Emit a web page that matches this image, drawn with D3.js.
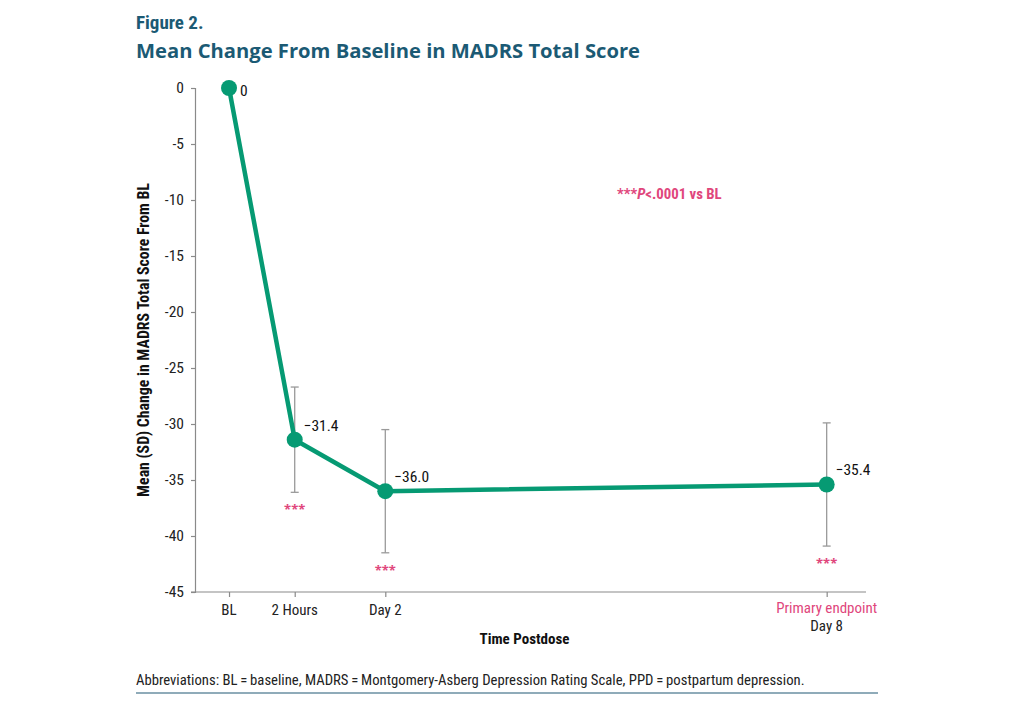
<!DOCTYPE html>
<html>
<head>
<meta charset="utf-8">
<script src="https://cdn.jsdelivr.net/npm/d3@7"></script>
<style>
  html, body { margin: 0; padding: 0; background: #fff; }
  svg { display: block; }
</style>
</head>
<body>
<svg id="chart" width="1010" height="706"></svg>
<script>
// ---- data ----
const timepoints = ["BL", "2 Hours", "Day 2", "Day 8"];
const timeHours = [0, 2, 48, 192];
const meanChange = [0, -31.4, -36.0, -35.4];
const sdValues = [0, 4.7, 5.5, 5.5];
const valueLabels = ["0", "\u221231.4", "\u221236.0", "\u221235.4"];
const significant = [false, true, true, true];
const yTicks = [0, -5, -10, -15, -20, -25, -30, -35, -40, -45];

// ---- layout ----
const svg = d3.select("#chart");
const margin = { left: 195, top: 88, right: 144, bottom: 114 };
const W = 1010, H = 706;
const plotW = W - margin.left - margin.right;   // 671
const plotH = H - margin.top - margin.bottom;   // 504

const green = "#069a73";
const teal = "#1b5a74";
const pink = "#e0467c";
const axisGray = "#8a8a8a";
const narrow = "'Liberation Sans Narrow', 'Roboto Condensed', sans-serif";
const sans = "'Open Sans', 'Lato', sans-serif";

// piecewise x scale over hours postdose (axis is not to scale)
const x = d3.scaleLinear()
  .domain(timeHours)
  .range([0.0507, 0.1486, 0.2836, 0.9414].map(f => margin.left + f * plotW));
const y = d3.scaleLinear().domain([0, -45]).range([margin.top, margin.top + plotH]);

// ---- titles ----
svg.append("text").attr("x", 136).attr("y", 29)
  .style("font-family", narrow).style("font-weight", "bold").style("font-size", "19px")
  .attr("fill", teal).text("Figure 2.");
svg.append("text").attr("x", 136).attr("y", 58)
  .style("font-family", sans).style("font-weight", "bold").style("font-size", "20.2px")
  .attr("fill", teal).text("Mean Change From Baseline in MADRS Total Score");

// ---- axes ----
const yAxis = d3.axisLeft(y).tickValues(yTicks).tickSize(4).tickPadding(7).tickFormat(d3.format("d"));
const gy = svg.append("g").attr("transform", `translate(${margin.left},0)`).call(yAxis);
gy.select(".domain").attr("stroke", axisGray).attr("stroke-width", 1.2);
gy.selectAll(".tick line").attr("stroke", axisGray).attr("stroke-width", 1.2);
gy.selectAll(".tick text").style("font-family", narrow).style("font-size", "15.5px").attr("fill", "#222")
  .text(d => d === 0 ? "0" : "-" + Math.abs(d));

const xAxis = d3.axisBottom(x).tickValues(timeHours).tickSize(5).tickFormat(() => "");
const gx = svg.append("g").attr("transform", `translate(0,${margin.top + plotH})`).call(xAxis);
gx.select(".domain").attr("d", `M${margin.left - 4},0H${margin.left + plotW}`)
  .attr("stroke", axisGray).attr("stroke-width", 1.2);
gx.selectAll(".tick line").attr("stroke", axisGray).attr("stroke-width", 1.2);

// x tick labels
timepoints.forEach((t, i) => {
  if (i === timepoints.length - 1) {
    svg.append("text").attr("x", x(timeHours[i])).attr("y", 613)
      .attr("text-anchor", "middle").style("font-family", narrow).style("font-size", "15px")
      .attr("fill", pink).text("Primary endpoint");
    svg.append("text").attr("x", x(timeHours[i])).attr("y", 631)
      .attr("text-anchor", "middle").style("font-family", narrow).style("font-size", "15px")
      .attr("fill", "#222").text(t);
  } else {
    svg.append("text").attr("x", x(timeHours[i])).attr("y", 615)
      .attr("text-anchor", "middle").style("font-family", narrow).style("font-size", "15px")
      .attr("fill", "#222").text(t);
  }
});

// axis titles
svg.append("text").attr("x", margin.left + plotW / 2 - 6).attr("y", 644)
  .attr("text-anchor", "middle").style("font-family", narrow).style("font-weight", "bold")
  .style("font-size", "15px").attr("fill", "#111").text("Time Postdose");
svg.append("text")
  .attr("transform", `translate(149,${margin.top + plotH / 2})rotate(-90)`)
  .attr("text-anchor", "middle").style("font-family", narrow).style("font-weight", "bold")
  .style("font-size", "15.8px").attr("fill", "#111")
  .text("Mean (SD) Change in MADRS Total Score From BL");

// ---- error bars ----
const eb = svg.append("g");
meanChange.forEach((m, i) => {
  if (sdValues[i] === 0) return;
  const cx = x(timeHours[i]);
  const y1 = y(m + sdValues[i]), y2 = y(m - sdValues[i]);
  eb.append("line").attr("x1", cx).attr("x2", cx).attr("y1", y1).attr("y2", y2)
    .attr("stroke", "#9a9a9a").attr("stroke-width", 1.3);
  [y1, y2].forEach(yy => eb.append("line").attr("x1", cx - 4).attr("x2", cx + 4)
    .attr("y1", yy).attr("y2", yy).attr("stroke", "#9a9a9a").attr("stroke-width", 1.3));
});

// ---- line & points ----
const pts = meanChange.map((m, i) => [x(timeHours[i]), y(m)]);
svg.append("path").attr("d", d3.line()(pts)).attr("fill", "none")
  .attr("stroke", green).attr("stroke-width", 4.5).attr("stroke-linejoin", "round");
svg.append("g").selectAll("circle").data(pts).join("circle")
  .attr("cx", d => d[0]).attr("cy", d => d[1]).attr("r", 8).attr("fill", green);

// value labels
meanChange.forEach((m, i) => {
  const cx = x(timeHours[i]), cy = y(m);
  svg.append("text").attr("x", cx + (i === 0 ? 11 : 9)).attr("y", i === 0 ? cy + 8 : cy - 9)
    .style("font-family", narrow).style("font-size", "15.5px").attr("fill", "#111")
    .text(valueLabels[i]);
});

// significance asterisks
meanChange.forEach((m, i) => {
  if (!significant[i]) return;
  svg.append("text").attr("x", x(timeHours[i])).attr("y", y(m - sdValues[i]) + 22)
    .attr("text-anchor", "middle").style("font-family", sans).style("font-weight", "bold")
    .style("font-size", "13px").attr("fill", pink).text("***");
});

// legend note
const note = svg.append("text").attr("x", 617).attr("y", 199)
  .style("font-family", narrow).style("font-weight", "bold").style("font-size", "14.8px").attr("fill", pink);
note.append("tspan").text("***");
note.append("tspan").style("font-style", "italic").text("P");
note.append("tspan").text("<.0001 vs BL");

// footnote
svg.append("text").attr("x", 136).attr("y", 685)
  .style("font-family", narrow).style("font-size", "14.7px").attr("fill", "#222")
  .text("Abbreviations: BL\u2009=\u2009baseline, MADRS\u2009=\u2009Montgomery-Asberg Depression Rating Scale, PPD\u2009=\u2009postpartum depression.");
svg.append("line").attr("x1", 136).attr("x2", 878).attr("y1", 693).attr("y2", 693)
  .attr("stroke", "#8fabb9").attr("stroke-width", 2);
</script>
</body>
</html>
